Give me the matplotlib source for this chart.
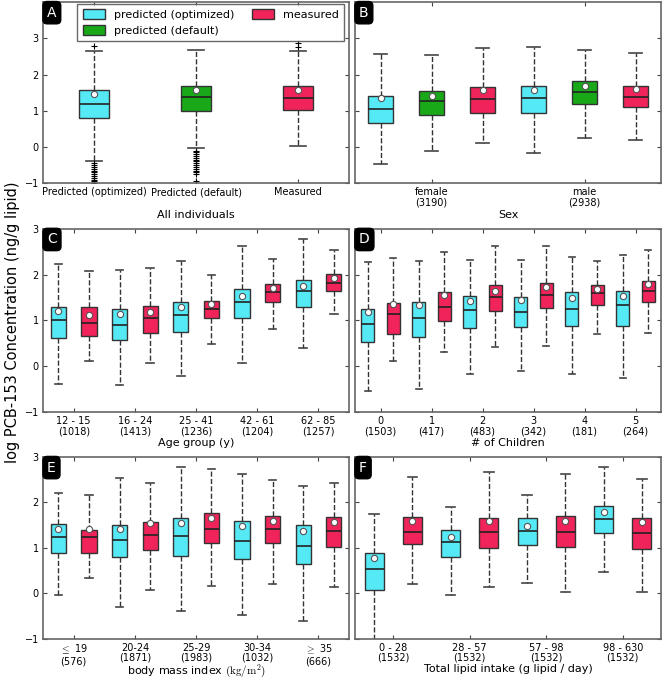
import matplotlib
matplotlib.use("Agg")
import matplotlib.pyplot as plt

# ---------- data ----------
# Panel A: all individuals
a_labels = ['Predicted (optimized)', 'Predicted (default)', 'Measured']
a_whislo = [-0.40, -0.04, 0.04]
a_q1 = [0.79, 1.00, 1.02]
a_med = [1.18, 1.38, 1.35]
a_q3 = [1.57, 1.68, 1.67]
a_whishi = [2.64, 2.69, 2.65]
a_mean = [1.46, 1.57, 1.58]
a_fliers = [
    [-0.45, -0.5, -0.55, -0.6, -0.65, -0.7, -0.75, -0.8, -0.85, -0.9, -0.95, -1.0, 2.79],
    [-0.1, -0.15, -0.2, -0.25, -0.3, -0.35, -0.4, -0.45, -0.5, -0.55, -0.6, -0.65, -0.7, -0.75, -0.95],
    [2.77, 2.86],
]

# Panel B: sex (opt, default, measured per group)
b_groups = ['female\n(3190)', 'male\n(2938)']
b_whislo = [-0.47, -0.12, 0.12, -0.16, 0.24, 0.20]
b_q1 = [0.66, 0.87, 0.94, 0.95, 1.18, 1.09]
b_med = [1.06, 1.26, 1.32, 1.35, 1.51, 1.38]
b_q3 = [1.42, 1.54, 1.65, 1.69, 1.81, 1.69]
b_whishi = [2.57, 2.54, 2.72, 2.77, 2.68, 2.58]
b_mean = [1.34, 1.41, 1.56, 1.56, 1.67, 1.60]

# Panel C: age group (opt, measured per group)
c_groups = ['12 - 15\n(1018)', '16 - 24\n(1413)', '25 - 41\n(1236)', '42 - 61\n(1204)', '62 - 85\n(1257)']
c_whislo = [-0.39, 0.12, -0.42, 0.07, -0.22, 0.48, 0.08, 0.81, 0.40, 1.13]
c_q1 = [0.61, 0.66, 0.57, 0.73, 0.75, 1.05, 1.05, 1.40, 1.29, 1.65]
c_med = [1.00, 0.94, 0.91, 1.06, 1.12, 1.24, 1.40, 1.62, 1.65, 1.82]
c_q3 = [1.29, 1.29, 1.24, 1.31, 1.41, 1.43, 1.69, 1.79, 1.89, 2.01]
c_whishi = [2.24, 2.07, 2.11, 2.14, 2.30, 2.00, 2.62, 2.35, 2.77, 2.54]
c_mean = [1.21, 1.12, 1.13, 1.18, 1.29, 1.35, 1.54, 1.70, 1.76, 1.93]

# Panel D: number of children
d_groups = ['0\n(1503)', '1\n(417)', '2\n(483)', '3\n(342)', '4\n(181)', '5\n(264)']
d_whislo = [-0.55, 0.12, -0.50, 0.30, -0.18, 0.41, -0.11, 0.45, -0.16, 0.71, -0.26, 0.72]
d_q1 = [0.53, 0.71, 0.63, 0.98, 0.84, 1.21, 0.86, 1.27, 0.88, 1.34, 0.88, 1.41]
d_med = [0.93, 1.15, 1.05, 1.30, 1.22, 1.51, 1.18, 1.55, 1.26, 1.59, 1.33, 1.65]
d_q3 = [1.26, 1.37, 1.40, 1.62, 1.54, 1.77, 1.51, 1.81, 1.62, 1.78, 1.65, 1.87]
d_whishi = [2.27, 2.36, 2.29, 2.49, 2.32, 2.62, 2.32, 2.63, 2.38, 2.29, 2.42, 2.53]
d_mean = [1.19, 1.35, 1.33, 1.56, 1.42, 1.65, 1.45, 1.72, 1.49, 1.69, 1.53, 1.80]

# Panel E: body mass index
e_groups = [r'$\leq$ 19' + '\n(576)', '20-24\n(1871)', '25-29\n(1983)', '30-34\n(1032)', r'$\geq$ 35' + '\n(666)']
e_whislo = [-0.03, 0.34, -0.30, 0.08, -0.38, 0.17, -0.47, 0.21, -0.61, 0.15]
e_q1 = [0.89, 0.89, 0.79, 0.96, 0.82, 1.11, 0.76, 1.11, 0.64, 1.03]
e_med = [1.25, 1.25, 1.17, 1.29, 1.27, 1.42, 1.16, 1.42, 1.05, 1.38]
e_q3 = [1.53, 1.40, 1.50, 1.56, 1.66, 1.77, 1.58, 1.71, 1.50, 1.68]
e_whishi = [2.21, 2.17, 2.53, 2.43, 2.78, 2.74, 2.62, 2.49, 2.36, 2.42]
e_mean = [1.41, 1.41, 1.41, 1.54, 1.54, 1.65, 1.47, 1.60, 1.38, 1.57]

# Panel F: total lipid intake
f_groups = ['0 - 28\n(1532)', '28 - 57\n(1532)', '57 - 98\n(1532)', '98 - 630\n(1532)']
f_whislo = [-1.20, 0.21, -0.04, 0.15, 0.23, 0.02, 0.47, 0.04]
f_q1 = [0.07, 1.08, 0.81, 1.00, 1.07, 1.02, 1.33, 0.97]
f_med = [0.53, 1.36, 1.12, 1.34, 1.38, 1.36, 1.64, 1.33]
f_q3 = [0.89, 1.68, 1.39, 1.66, 1.66, 1.70, 1.91, 1.65]
f_whishi = [1.74, 2.56, 1.90, 2.67, 2.16, 2.63, 2.78, 2.51]
f_mean = [0.77, 1.58, 1.24, 1.58, 1.49, 1.60, 1.78, 1.56]

CYAN = '#55e8f5'
GREEN = '#18a818'
RED = '#f0245a'
EDGE = '#333333'


def draw_boxes(ax, whislo, q1, med, q3, whishi, mean, colors, fliers=None, width=0.5):
    stats = []
    for i in range(len(med)):
        stats.append(dict(whislo=whislo[i], q1=q1[i], med=med[i], q3=q3[i],
                          whishi=whishi[i], mean=mean[i],
                          fliers=fliers[i] if fliers else []))
    pos = list(range(1, len(med) + 1))
    bp = ax.bxp(stats, positions=pos, widths=width, patch_artist=True,
                showmeans=True, showfliers=True,
                boxprops=dict(edgecolor=EDGE, linewidth=1.0),
                medianprops=dict(color='#222222', linewidth=1.2),
                whiskerprops=dict(color='#333333', linestyle='--', linewidth=1.0),
                capprops=dict(color='#444444', linewidth=1.2),
                meanprops=dict(marker='o', markerfacecolor='white', markeredgecolor='#555555',
                               markersize=4.5, markeredgewidth=0.8),
                flierprops=dict(marker='+', markeredgecolor='black', markersize=4,
                                markeredgewidth=0.8))
    for patch, c in zip(bp['boxes'], colors):
        patch.set_facecolor(c)
    ax.set_xlim(0.5, len(med) + 0.5)
    return bp


def style(ax, label, ylim, show_ylabels):
    ax.set_ylim(*ylim)
    ax.set_yticks([-1, 0, 1, 2, 3])
    ax.tick_params(direction='in', top=True, right=True, labelsize=7, length=3,
                   color='#444444', pad=3)
    if not show_ylabels:
        ax.set_yticklabels([])
    for t in ax.get_xticklabels():
        t.set_linespacing(1.0)
    for s in ax.spines.values():
        s.set_color('#666666')
        s.set_linewidth(1.2)
    ax.text(0.013, 0.98, label, transform=ax.transAxes, color='white', fontsize=10,
            ha='left', va='top',
            bbox=dict(boxstyle='round,pad=0.3', fc='black', ec='black'))


fig = plt.figure(figsize=(6.63, 6.81), dpi=100)
W = 0.4615
L1, L2 = 0.065, 0.5355
axA = fig.add_axes([L1, 0.731, W, 0.266])
axB = fig.add_axes([L2, 0.731, W, 0.266])
axC = fig.add_axes([L1, 0.395, W, 0.269])
axD = fig.add_axes([L2, 0.395, W, 0.269])
axE = fig.add_axes([L1, 0.062, W, 0.267])
axF = fig.add_axes([L2, 0.062, W, 0.267])

# A
bp = draw_boxes(axA, a_whislo, a_q1, a_med, a_q3, a_whishi, a_mean,
                [CYAN, GREEN, RED], fliers=a_fliers, width=0.3)
axA.set_xticks([1, 2, 3])
axA.set_xticklabels(a_labels)
style(axA, 'A', (-1, 4), True)
axA.set_xlabel('All individuals', fontsize=8, labelpad=9)
leg = axA.legend([bp['boxes'][0], bp['boxes'][1], bp['boxes'][2]],
                 ['predicted (optimized)', 'predicted (default)', 'measured'],
                 ncol=2, loc='upper right', bbox_to_anchor=(0.985, 0.99),
                 fontsize=8, frameon=True, fancybox=False, borderaxespad=0.0,
                 handlelength=2.0, handleheight=0.9, columnspacing=1.6,
                 labelspacing=0.5, borderpad=0.5)
leg.get_frame().set_edgecolor('#444444')
leg.get_frame().set_linewidth(1.0)

# B
draw_boxes(axB, b_whislo, b_q1, b_med, b_q3, b_whishi, b_mean,
           [CYAN, GREEN, RED] * 2)
axB.set_xticks([2, 5])
axB.set_xticklabels(b_groups)
style(axB, 'B', (-1, 4), False)
axB.set_xlabel('Sex', fontsize=8, labelpad=2)

# C
draw_boxes(axC, c_whislo, c_q1, c_med, c_q3, c_whishi, c_mean, [CYAN, RED] * 5)
axC.set_xticks([1.5, 3.5, 5.5, 7.5, 9.5])
axC.set_xticklabels(c_groups)
style(axC, 'C', (-1, 3), True)
axC.set_xlabel('Age group (y)', fontsize=8, labelpad=1)

# D
draw_boxes(axD, d_whislo, d_q1, d_med, d_q3, d_whishi, d_mean, [CYAN, RED] * 6)
axD.set_xticks([1.5, 3.5, 5.5, 7.5, 9.5, 11.5])
axD.set_xticklabels(d_groups)
style(axD, 'D', (-1, 3), False)
axD.set_xlabel('# of Children', fontsize=8, labelpad=1)

# E
draw_boxes(axE, e_whislo, e_q1, e_med, e_q3, e_whishi, e_mean, [CYAN, RED] * 5)
axE.set_xticks([1.5, 3.5, 5.5, 7.5, 9.5])
axE.set_xticklabels(e_groups, math_fontfamily='cm')
style(axE, 'E', (-1, 3), True)
axE.set_xlabel(r'body mass index $(\mathrm{kg/m^2})$', fontsize=8, labelpad=-2.5,
               math_fontfamily='cm')

# F
draw_boxes(axF, f_whislo, f_q1, f_med, f_q3, f_whishi, f_mean, [CYAN, RED] * 4)
axF.set_xticks([1.5, 3.5, 5.5, 7.5])
axF.set_xticklabels(f_groups)
style(axF, 'F', (-1, 3), False)
axF.set_xlabel('Total lipid intake (g lipid / day)', fontsize=8, labelpad=1)

fig.text(0.008, 0.527, 'log PCB-153 Concentration (ng/g lipid)', rotation=90,
         ha='left', va='center', fontsize=10.5)

fig.savefig('out.png', dpi=100)
